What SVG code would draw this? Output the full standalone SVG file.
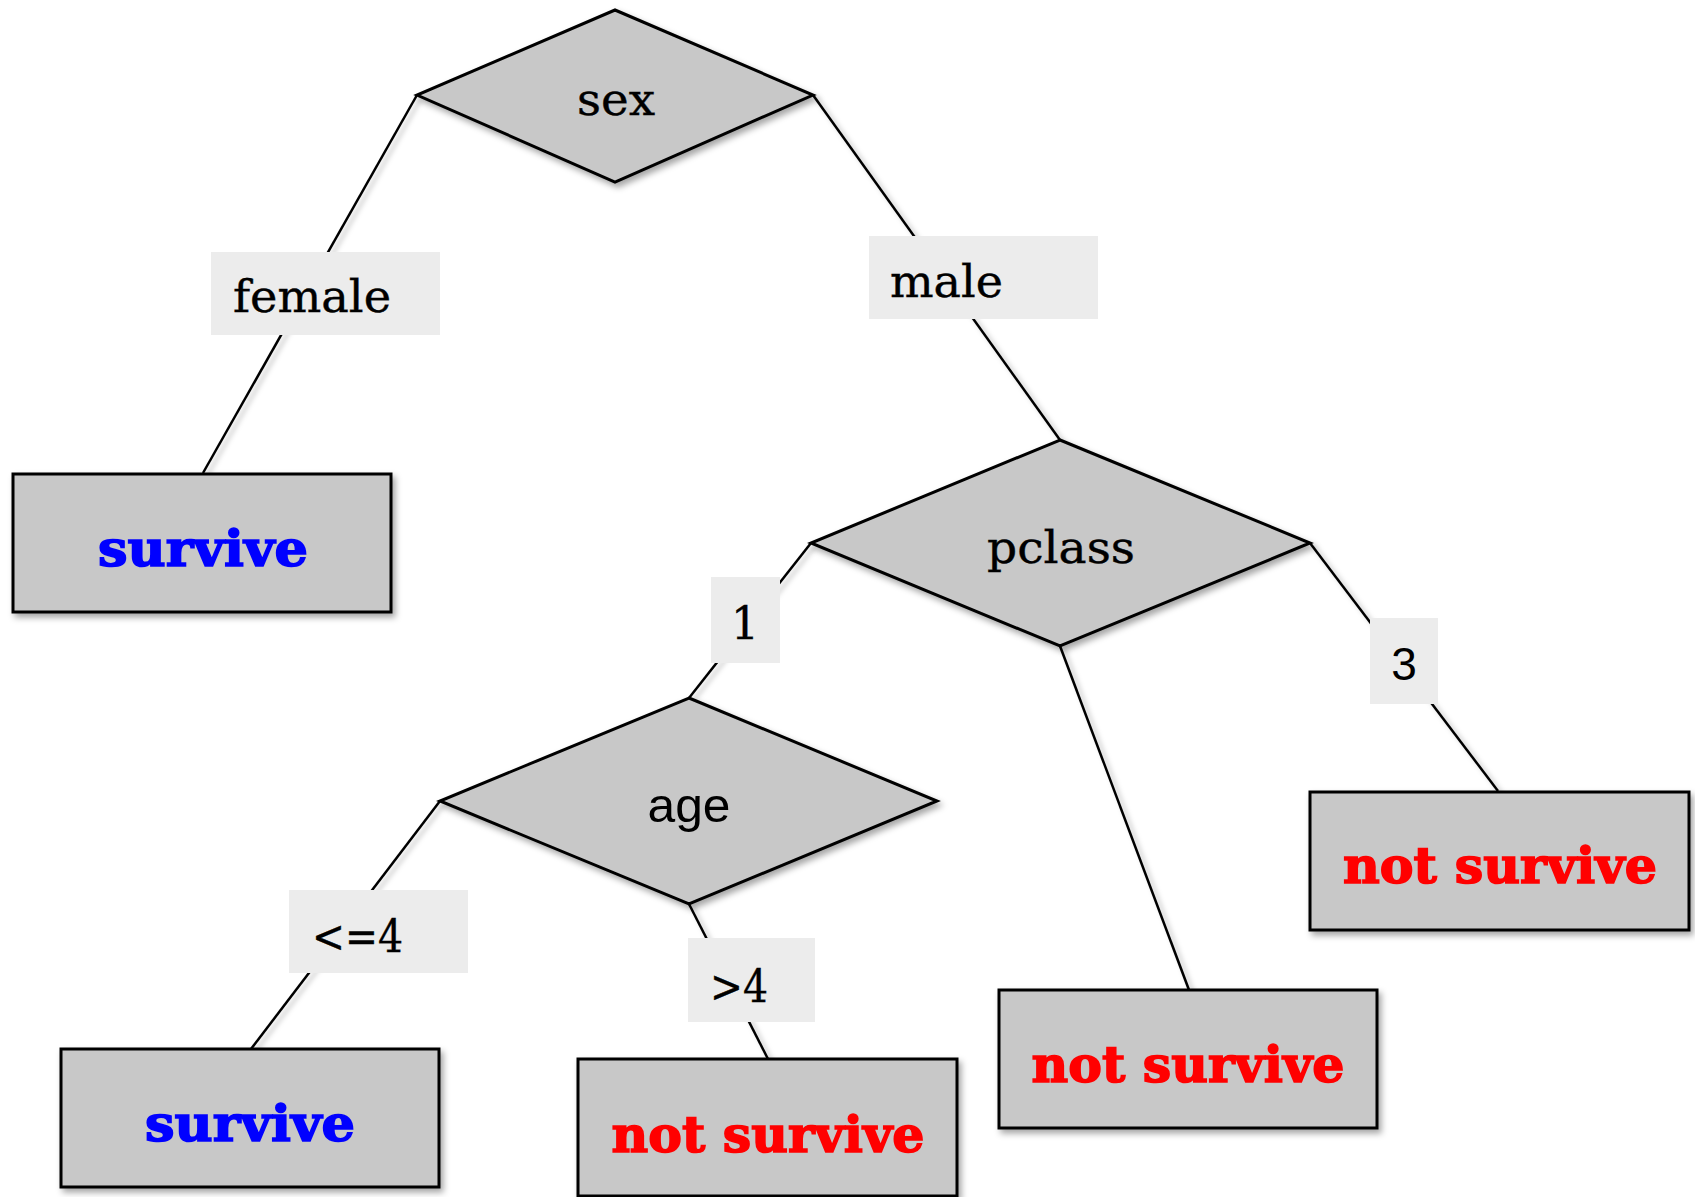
<svg xmlns="http://www.w3.org/2000/svg" width="1695" height="1197" viewBox="0 0 1695 1197">
<defs>
<filter id="sh" x="-10%" y="-10%" width="130%" height="130%">
<feDropShadow dx="3" dy="4" stdDeviation="3" flood-color="#000" flood-opacity="0.35"/>
</filter>
<filter id="esh" x="-20%" y="-20%" width="140%" height="140%">
<feDropShadow dx="4" dy="3" stdDeviation="2.5" flood-color="#000" flood-opacity="0.25"/>
</filter>
<style>
.node{fill:#c8c8c8;stroke:#000;stroke-width:3;stroke-linejoin:miter;filter:url(#sh)}
.edge{stroke:#000;stroke-width:2.5;fill:none;filter:url(#esh)}
.lbl{fill:#ececec}
.slab{font-family:"DejaVu Serif","Liberation Serif",serif;font-size:44px;fill:#000;stroke:#000;stroke-width:0.4}
.sans{font-family:"Liberation Sans",Arial,sans-serif;fill:#000}
.bold{font-family:"DejaVu Serif","Liberation Serif",serif;font-weight:bold;font-size:50px;text-anchor:middle;stroke-width:1.6}
.blue{fill:#0000ff;stroke:#0000ff}
.red{fill:#ff0000;stroke:#ff0000}
</style>
</defs>
<g id="connectors">
<line class="edge" x1="417" y1="95" x2="203" y2="473"/>
<line class="edge" x1="813" y1="95" x2="1060" y2="440"/>
<line class="edge" x1="811" y1="543" x2="689" y2="698"/>
<line class="edge" x1="1060" y1="646" x2="1189" y2="990"/>
<line class="edge" x1="1310" y1="543" x2="1498" y2="791"/>
<line class="edge" x1="440" y1="801" x2="251" y2="1049"/>
<line class="edge" x1="689" y1="904" x2="768" y2="1059"/>
</g>
<g id="edge-labels">
<g id="lbl-female"><rect class="lbl" x="211" y="252" width="229" height="83"/><text class="slab" x="233" y="312" textLength="158" lengthAdjust="spacingAndGlyphs">female</text></g>
<g id="lbl-male"><rect class="lbl" x="869" y="236" width="229" height="83"/><text class="slab" x="890" y="297" textLength="113" lengthAdjust="spacingAndGlyphs">male</text></g>
<g id="lbl-1"><rect class="lbl" x="711" y="577" width="69" height="86"/><text class="slab" x="745" y="639" text-anchor="middle" font-size="46">1</text></g>
<g id="lbl-3"><rect class="lbl" x="1370" y="618" width="68" height="86"/><text class="sans" x="1404" y="680" text-anchor="middle" font-size="46">3</text></g>
<g id="lbl-le4"><rect class="lbl" x="289" y="890" width="179" height="83"/><text class="slab" x="312" y="952" textLength="91" lengthAdjust="spacingAndGlyphs">&lt;=4</text></g>
<g id="lbl-gt4"><rect class="lbl" x="688" y="938" width="127" height="84"/><text class="slab" x="710" y="1002" textLength="58" lengthAdjust="spacingAndGlyphs">&gt;4</text></g>
</g>
<g id="node-sex">
<polygon class="node" points="615,10 813,95 615,182 417,95"/>
<text class="slab" x="616" y="115" text-anchor="middle" textLength="78" lengthAdjust="spacingAndGlyphs">sex</text>
</g>
<g id="node-pclass">
<polygon class="node" points="1060,440 1310,543 1060,646 811,543"/>
<text class="slab" x="1061" y="563" text-anchor="middle" textLength="148" lengthAdjust="spacingAndGlyphs">pclass</text>
</g>
<g id="node-age">
<polygon class="node" points="689,698 937,801 689,904 440,801"/>
<text class="sans" x="689" y="822" text-anchor="middle" font-size="48" textLength="83" lengthAdjust="spacingAndGlyphs">age</text>
</g>
<g id="node-survive1">
<rect class="node" x="13" y="474" width="378" height="138"/>
<text class="bold blue" x="203" y="566" textLength="210" lengthAdjust="spacingAndGlyphs">survive</text>
</g>
<g id="node-survive2">
<rect class="node" x="61" y="1049" width="378" height="138"/>
<text class="bold blue" x="250" y="1141" textLength="210" lengthAdjust="spacingAndGlyphs">survive</text>
</g>
<g id="node-notsurvive-age">
<rect class="node" x="578" y="1059" width="379" height="137"/>
<text class="bold red" x="768" y="1152" textLength="313" lengthAdjust="spacingAndGlyphs">not survive</text>
</g>
<g id="node-notsurvive-p2">
<rect class="node" x="999" y="990" width="378" height="138"/>
<text class="bold red" x="1188" y="1082" textLength="313" lengthAdjust="spacingAndGlyphs">not survive</text>
</g>
<g id="node-notsurvive-p3">
<rect class="node" x="1310" y="792" width="379" height="138"/>
<text class="bold red" x="1500" y="883" textLength="314" lengthAdjust="spacingAndGlyphs">not survive</text>
</g>
</svg>
